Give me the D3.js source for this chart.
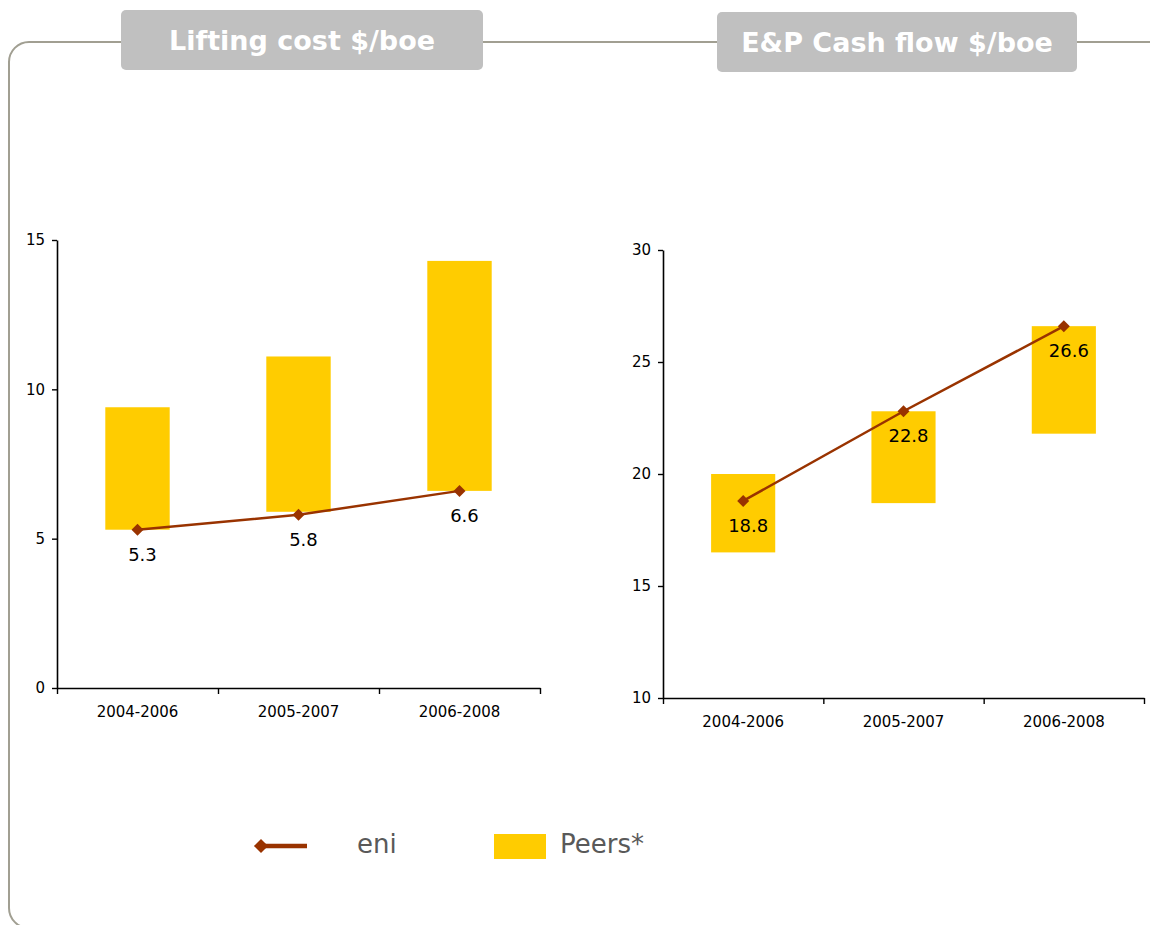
<!DOCTYPE html>
<html>
<head>
<meta charset="utf-8">
<script src="https://cdn.jsdelivr.net/npm/d3@7"></script>
<style>
  body { margin: 0; background: #fff; }
  svg { display: block; font-family: "DejaVu Sans", Verdana, sans-serif; }
</style>
</head>
<body>
<div id="chart"></div>
<script>
// periods shared by both panels
var periods = ["2004-2006", "2005-2007", "2006-2008"];

// Lifting cost $/boe
var liftPeersLow = [5.3, 5.9, 6.6];
var liftPeersHigh = [9.4, 11.1, 14.3];
var liftEni = [5.3, 5.8, 6.6];
var liftTicks = [0, 5, 10, 15];

// E&P Cash flow $/boe
var cashPeersLow = [16.5, 18.7, 21.8];
var cashPeersHigh = [20.0, 22.8, 26.6];
var cashEni = [18.8, 22.8, 26.6];
var cashTicks = [10, 15, 20, 25, 30];

var legendNames = ["eni", "Peers*"];

var W = 1150, H = 925;
var barColor = "#ffcc00", lineColor = "#993300";

var svg = d3.select("#chart").append("svg")
    .attr("width", W)
    .attr("height", H);

// outer rounded frame (bottom edge sits just off the page)
svg.append("rect")
    .attr("x", 9).attr("y", 42)
    .attr("width", 1165).attr("height", 886)
    .attr("rx", 20).attr("ry", 20)
    .attr("fill", "none")
    .attr("stroke", "#a19f92")
    .attr("stroke-width", 2);

function titleBox(x, y, w, h, label)
{
  svg.append("rect")
      .attr("x", x).attr("y", y)
      .attr("width", w).attr("height", h)
      .attr("rx", 5)
      .attr("fill", "#c0c0c0");
  svg.append("text")
      .attr("x", x + w / 2)
      .attr("y", y + h / 2 + 10)
      .attr("text-anchor", "middle")
      .attr("font-size", "27px")
      .attr("font-weight", "bold")
      .attr("fill", "#fff")
      .text(label);
}

titleBox(121, 10, 362, 60, "Lifting cost $/boe");
titleBox(717, 12, 360, 60, "E&P Cash flow $/boe");

function panel(opts)
{
  var g = svg.append("g");

  var x = d3.scaleBand()
      .domain(periods)
      .range([opts.left, opts.right])
      .padding(0);
  var xEdge = d3.scaleLinear()
      .domain([0, periods.length])
      .range([opts.left, opts.right]);
  var y = d3.scaleLinear()
      .domain(opts.domain)
      .range([opts.bottom, opts.top]);

  var barW = x.bandwidth() * 0.4;

  var rows = periods.map(function(p, i) {
    return { period: p, low: opts.low[i], high: opts.high[i], eni: opts.eni[i] };
  });

  g.selectAll(".bar")
      .data(rows)
    .enter().append("rect")
      .attr("class", "bar")
      .attr("x", function(d) { return x(d.period) + x.bandwidth() / 2 - barW / 2; })
      .attr("width", barW)
      .attr("y", function(d) { return y(d.high); })
      .attr("height", function(d) { return y(d.low) - y(d.high); })
      .attr("fill", barColor);

  // y axis
  var yAxis = g.append("g")
      .attr("transform", "translate(" + opts.left + ",0)")
      .call(d3.axisLeft(y).tickValues(opts.ticks).tickSize(5).tickSizeOuter(0).tickPadding(7));
  yAxis.select(".domain").attr("stroke-width", 1.6);
  yAxis.selectAll(".tick line").attr("stroke-width", 1.4);
  yAxis.selectAll("text").attr("font-size", "15px").attr("fill", "#000")
      .attr("font-family", "DejaVu Sans, Verdana, sans-serif");

  // x axis with ticks between categories
  var xAxis = g.append("g")
      .attr("transform", "translate(0," + opts.bottom + ")")
      .call(d3.axisBottom(xEdge).tickValues(d3.range(periods.length + 1))
          .tickFormat("").tickSize(6).tickSizeOuter(0));
  xAxis.select(".domain").attr("stroke-width", 1.6);
  xAxis.selectAll(".tick line").attr("stroke-width", 1.4);

  var xLab = g.append("g")
      .attr("transform", "translate(0," + opts.bottom + ")")
      .call(d3.axisBottom(x).tickSize(0).tickPadding(18));
  xLab.select(".domain").remove();
  xLab.selectAll("text").attr("font-size", "15px").attr("fill", "#000")
      .attr("font-family", "DejaVu Sans, Verdana, sans-serif");

  // eni line
  var line = d3.line()
      .x(function(d) { return x(d.period) + x.bandwidth() / 2; })
      .y(function(d) { return y(d.eni); });

  g.append("path")
      .datum(rows)
      .attr("d", line)
      .attr("fill", "none")
      .attr("stroke", lineColor)
      .attr("stroke-width", 2.5);

  var diamond = d3.symbol().type(d3.symbolSquare).size(72);
  g.selectAll(".pt")
      .data(rows)
    .enter().append("path")
      .attr("class", "pt")
      .attr("d", diamond)
      .attr("transform", function(d) {
        return "translate(" + (x(d.period) + x.bandwidth() / 2) + "," + y(d.eni) + ") rotate(45)";
      })
      .attr("fill", lineColor);

  g.selectAll(".val")
      .data(rows)
    .enter().append("text")
      .attr("class", "val")
      .attr("x", function(d) { return x(d.period) + x.bandwidth() / 2 + 5; })
      .attr("y", function(d) { return y(d.eni) + 31; })
      .attr("text-anchor", "middle")
      .attr("font-size", "18px")
      .attr("fill", "#000")
      .text(function(d) { return d3.format(".1f")(d.eni); });
}

panel({ left: 57, right: 540, top: 240, bottom: 688, domain: [0, 15],
        ticks: liftTicks, low: liftPeersLow, high: liftPeersHigh, eni: liftEni });
panel({ left: 663, right: 1144, top: 250, bottom: 698, domain: [10, 30],
        ticks: cashTicks, low: cashPeersLow, high: cashPeersHigh, eni: cashEni });

// legend
var legend = svg.append("g").attr("transform", "translate(0,846)");
legend.append("line")
    .attr("x1", 258).attr("x2", 307)
    .attr("y1", 0).attr("y2", 0)
    .attr("stroke", lineColor)
    .attr("stroke-width", 4.5);
legend.append("path")
    .attr("d", d3.symbol().type(d3.symbolSquare).size(100))
    .attr("transform", "translate(261,0) rotate(45)")
    .attr("fill", lineColor);
legend.append("text")
    .attr("x", 357).attr("y", 7)
    .attr("font-size", "26px")
    .attr("fill", "#595959")
    .text(legendNames[0]);
legend.append("rect")
    .attr("x", 494).attr("y", -12)
    .attr("width", 52).attr("height", 25)
    .attr("fill", barColor);
legend.append("text")
    .attr("x", 560).attr("y", 7)
    .attr("font-size", "26px")
    .attr("fill", "#595959")
    .text(legendNames[1]);
</script>
</body>
</html>
